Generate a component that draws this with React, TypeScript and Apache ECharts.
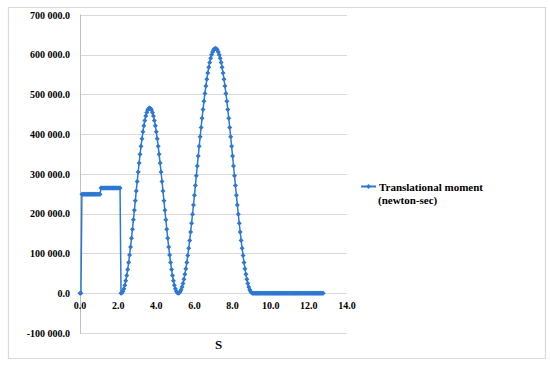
import React, { useEffect, useRef } from "react";
import * as echarts from "echarts";

// Sample spacing of the series (seconds)
const TIME_STEP = 0.05;

// Translational moment (newton-sec), sampled every 0.05 s from 0.00 s
const startValues = [0, 0];
const plateau1 = [
  249000, 249000, 249000, 249000, 249000, 249000, 249000, 249000, 249000, 249000,
  249000, 249000, 249000, 249000, 249000, 249000, 249000, 249000, 249000, 249000,
];
const plateau2 = [
  265000, 265000, 265000, 265000, 265000, 265000, 265000, 265000, 265000, 265000,
  265000, 265000, 265000, 265000, 265000, 265000, 265000, 265000, 265000, 265000,
  265000,
];
const hump1 = [
  0, 1300, 5100, 11400, 20100, 31200, 44500, 59800, 77100, 96000,
  116500, 138200, 161000, 184600, 208600, 233000, 257400, 281400, 305000, 327800,
  349500, 370000, 388900, 406200, 421500, 434800, 445900, 454600, 460900, 464700,
  466000,
  464700, 460900, 454600, 445900, 434800, 421500, 406200, 388900, 370000, 349500,
  327800, 305000, 281400, 257400, 233000, 208600, 184600, 161000, 138200, 116500,
  96000, 77100, 59800, 44500, 31200, 20100, 11400, 5100, 1300, 0,
];
const hump2 = [
  1000, 4000, 9000, 15900, 24700, 35300, 47700, 61800, 77500, 94700,
  113200, 133000, 154000, 176000, 198800, 222300, 246400, 270900, 295600, 320400,
  345100, 369600, 393700, 417200, 440000, 462000, 483000, 502800, 521300, 538500,
  554200, 568300, 580700, 591300, 600100, 607100, 612000, 615000, 616000,
  615000, 612000, 607100, 600100, 591300, 580700, 568300, 554200, 538500, 521300,
  502800, 483000, 462000, 440000, 417200, 393700, 369600, 345100, 320400, 295600,
  270900, 246400, 222300, 198800, 176000, 154000, 133000, 113200, 94700, 77500,
  61800, 47700, 35300, 24700, 15900, 9000, 4000, 1000, 0,
];
const tailValues = [
  0, 0, 0, 0, 0, 0, 0, 0, 0, 0,
  0, 0, 0, 0, 0, 0, 0, 0, 0, 0,
  0, 0, 0, 0, 0, 0, 0, 0, 0, 0,
  0, 0, 0, 0, 0, 0, 0, 0, 0, 0,
  0, 0, 0, 0, 0, 0, 0, 0, 0, 0,
  0, 0, 0, 0, 0, 0, 0, 0, 0, 0,
  0, 0, 0, 0, 0, 0, 0, 0, 0, 0,
  0, 0, 0, 0,
];

const seriesName = "Translational moment (newton-sec)";
const legendLine1 = "Translational moment";
const legendLine2 = "(newton-sec)";
const xAxisTitle = "S";

const FONT = "Liberation Serif, Times New Roman, serif";

function fmtY(v: number): string {
  const neg = v < 0;
  const s = Math.abs(v).toFixed(1);
  const [ip, dp] = s.split(".");
  const grouped = ip.replace(/\B(?=(\d{3})+(?!\d))/g, " ");
  return (neg ? "-" : "") + grouped + "." + dp;
}

export default function App() {
  const ref = useRef<HTMLDivElement>(null);
  useEffect(() => {
    if (!ref.current) return;
    const chart = echarts.init(ref.current, undefined, { renderer: "svg" });
    const values = [
      ...startValues,
      ...plateau1,
      ...plateau2,
      ...hump1,
      ...hump2,
      ...tailValues,
    ];
    const data = values.map((v, i) => [Math.round(i * TIME_STEP * 100) / 100, v]);
    const blue = "#2d78d2";
    chart.setOption({
      animation: false,
      backgroundColor: "#ffffff",
      textStyle: { fontFamily: FONT },
      grid: { left: 80, right: 203, top: 15, bottom: 32, containLabel: false },
      xAxis: {
        type: "value",
        min: 0,
        max: 14,
        interval: 2,
        axisLine: { show: false },
        axisTick: { show: false },
        splitLine: { show: false },
        axisLabel: {
          formatter: (v: number) => v.toFixed(1),
          fontFamily: FONT,
          fontWeight: "bold",
          fontSize: 10,
          color: "#000",
          // labels sit just under the zero line, as in the reference
          margin: -33,
        },
      },
      yAxis: {
        type: "value",
        min: -100000,
        max: 700000,
        interval: 100000,
        axisLine: { show: true, onZero: false, lineStyle: { color: "#bfbfbf", width: 1 } },
        axisTick: { show: false },
        splitLine: { show: true, lineStyle: { color: "#d9d9d9", width: 1 } },
        axisLabel: {
          formatter: (v: number) => fmtY(v),
          fontFamily: FONT,
          fontWeight: "bold",
          fontSize: 10,
          color: "#000",
          margin: 10,
        },
      },
      legend: {
        show: true,
        left: 360,
        top: 181,
        padding: 0,
        itemWidth: 15,
        itemHeight: 6,
        itemGap: 0,
        formatter: () => legendLine1,
        textStyle: {
          fontFamily: FONT,
          fontWeight: "bold",
          fontSize: 11,
          color: "#000",
          padding: [0, 0, 0, -2],
        },
      },
      graphic: [
        {
          type: "rect",
          left: 6,
          top: 5,
          shape: { width: 537, height: 351 },
          style: { fill: "none", stroke: "#d9d9d9", lineWidth: 1.2 },
          silent: true,
        },
        {
          type: "text",
          left: 378,
          top: 194,
          style: {
            text: legendLine2,
            fontFamily: FONT,
            fontWeight: "bold",
            fontSize: 11,
            fill: "#000",
          },
        },
        {
          type: "text",
          left: 215,
          top: 338,
          style: {
            text: xAxisTitle,
            fontFamily: FONT,
            fontWeight: "bold",
            fontSize: 13,
            fill: "#000",
          },
        },
      ],
      series: [
        {
          name: seriesName,
          type: "line",
          data,
          symbol: "diamond",
          symbolSize: 5,
          showAllSymbol: true,
          itemStyle: { color: blue },
          lineStyle: { color: blue, width: 1.5 },
        },
      ],
    });
    return () => chart.dispose();
  }, []);
  return (
    <div
      ref={ref}
      style={{ position: "fixed", left: 0, top: 0, width: 550, height: 365 }}
    />
  );
}
